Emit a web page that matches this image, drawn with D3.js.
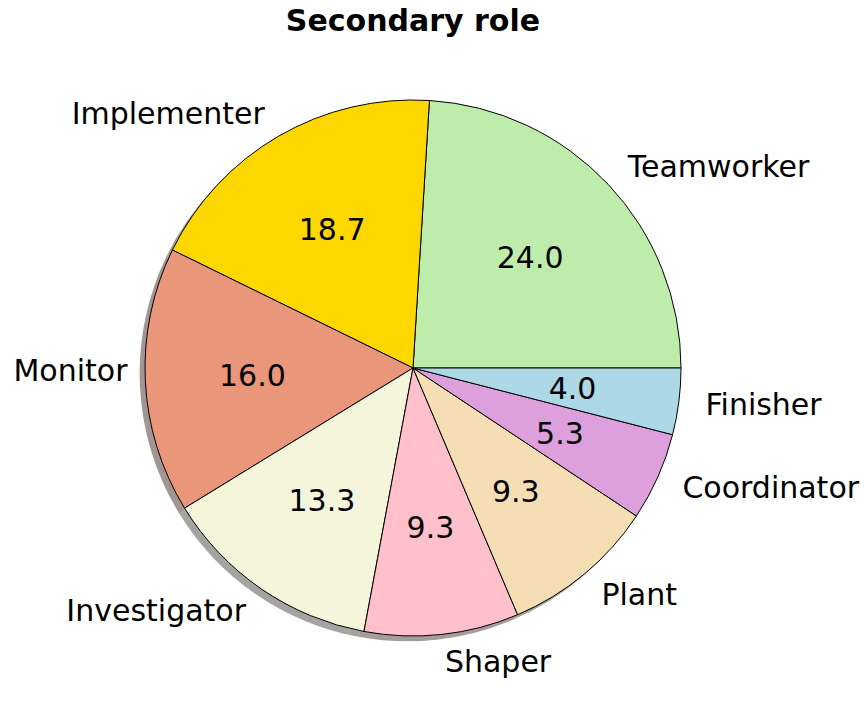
<!DOCTYPE html>
<html>
<head>
<meta charset="utf-8">
<script src="https://cdn.jsdelivr.net/npm/d3@7"></script>
<style>
  body { margin: 0; background: #fff; }
  text { font-family: "DejaVu Sans", sans-serif; }
</style>
</head>
<body>
<div id="chart"></div>
<script>
const roles = ["Teamworker", "Implementer", "Monitor", "Investigator", "Shaper", "Plant", "Coordinator", "Finisher"];
const shares = [24.0, 18.7, 16.0, 13.3, 9.3, 9.3, 5.3, 4.0];
const colors = ["#bdecab", "#ffd700", "#e9967a", "#f5f5dc", "#ffc0cb", "#f5deb3", "#dda0dd", "#add8e6"];

const width = 864;
const height = 711;
const cx = 413, cy = 368, radius = 268;
const fontSize = 30;

const svg = d3.select("#chart")
  .append("svg")
  .attr("width", width)
  .attr("height", height);

svg.append("text")
  .attr("x", cx)
  .attr("y", 20)
  .attr("text-anchor", "middle")
  .attr("dominant-baseline", "central")
  .style("font-size", fontSize + "px")
  .style("font-weight", "bold")
  .text("Secondary role");

const data = roles.map((r, i) => ({ role: r, value: shares[i], color: colors[i] }));

// start at 3 o'clock, go counterclockwise
const pie = d3.pie()
  .value(d => d.value)
  .sort(null)
  .startAngle(Math.PI / 2)
  .endAngle(Math.PI / 2 - 2 * Math.PI);

const arcs = pie(data);
const arc = d3.arc().innerRadius(0).outerRadius(radius);

// shadow: darkened colour, half alpha, shifted left/down
const off = 0.02 * radius;
svg.append("g")
  .attr("transform", `translate(${cx - off},${cy + off})`)
  .selectAll("path")
  .data(arcs)
  .join("path")
  .attr("d", arc)
  .attr("fill", d => {
    const c = d3.rgb(d.data.color);
    return d3.rgb(c.r * 0.3, c.g * 0.3, c.b * 0.3).toString();
  })
  .attr("fill-opacity", 0.5);

const g = svg.append("g").attr("transform", `translate(${cx},${cy})`);

g.selectAll("path")
  .data(arcs)
  .join("path")
  .attr("d", arc)
  .attr("fill", d => d.data.color)
  .attr("stroke", "#000")
  .attr("stroke-width", 1);

const mid = d => (d.startAngle + d.endAngle) / 2;

g.selectAll("text.pct")
  .data(arcs)
  .join("text")
  .attr("class", "pct")
  .attr("x", d => 0.6 * radius * Math.sin(mid(d)))
  .attr("y", d => -0.6 * radius * Math.cos(mid(d)))
  .attr("text-anchor", "middle")
  .attr("dominant-baseline", "central")
  .style("font-size", fontSize + "px")
  .text(d => d.data.value.toFixed(1));

// the Monitor label sits a little up and in from its nominal spot
const isMonitor = d => d.data.role === "Monitor";

g.selectAll("text.lbl")
  .data(arcs)
  .join("text")
  .attr("class", "lbl")
  .attr("x", d => 1.1 * radius * Math.sin(mid(d)))
  .attr("y", d => -1.1 * radius * Math.cos(mid(d)))
  .attr("dx", d => isMonitor(d) ? 9 : 0)
  .attr("dy", d => isMonitor(d) ? -11 : 0)
  .attr("text-anchor", d => Math.sin(mid(d)) > 0 ? "start" : "end")
  .attr("dominant-baseline", "central")
  .style("font-size", fontSize + "px")
  .text(d => d.data.role);
</script>
</body>
</html>
